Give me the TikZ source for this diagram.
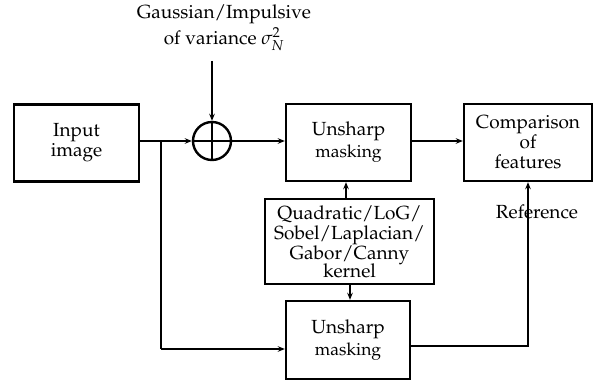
\documentclass[tikz,border=0pt]{standalone}
\usepackage[T1]{fontenc}
\usepackage{mathpazo}
\usetikzlibrary{arrows.meta}
\begin{document}
\begin{tikzpicture}[x=1pt,y=-1pt,
  every node/.style={font=\fontsize{19}{20}\selectfont},
  blk/.style={draw,line width=2.4pt,minimum width=#1,inner sep=0pt,align=center},
  blk/.default=125pt,
  conn/.style={line width=1.9pt,-{Stealth[length=7pt,width=5.5pt]}},
  plain/.style={line width=1.9pt}
]
\useasboundingbox (0,0) rectangle (598,382);
\node[blk=125pt,minimum height=77pt] (input) at (76.5,143) {Input\\image};
\node[draw,circle,line width=2.4pt,minimum size=38pt,inner sep=0pt,
  path picture={\draw[line width=1.9pt] (path picture bounding box.north) -- (path picture bounding box.south)
   (path picture bounding box.west) -- (path picture bounding box.east);}] (sum) at (212,141) {};
\node[align=center] (noise) at (224,28) {Gaussian/Impulsive\\[3pt]of variance $\sigma_N^2$};
\coordinate (ns) at (212,61);
\node[blk=125pt,minimum height=77pt] (us1) at (348.5,142.5) {Unsharp\\[2pt]{\fontsize{17.5}{20}\selectfont masking}};
\node[blk=128pt,minimum height=77pt,align=center] (cmp) at (528,142.5) {Comparison\\of\\features};
\node[blk=169pt,minimum height=85pt] (kern) at (349.5,241.5) {Quadratic/LoG/\\Sobel/Laplacian/\\Gabor/Canny\\[-2pt]kernel};
\node[blk=124pt,minimum height=78pt] (us2) at (348,340) {Unsharp\\[2pt]{\fontsize{17.5}{20}\selectfont masking}};
\node (ref) at (537,212) {Reference};
\coordinate (br) at (161,141);
\coordinate (brd) at (161,349);
\coordinate (ro) at (528,346);
\draw[conn] (input.east |- sum) -- (sum.west);
\draw[conn] (ns) -- (sum.north);
\draw[conn] (sum.east) -- (us1.west |- sum);
\draw[conn] (us1.east |- sum) -- (cmp.west |- sum);
\draw[plain] (br) -- (brd);
\draw[conn] (brd) -- (us2.west |- brd);
\draw[conn] (kern.north -| 346,0) -- (us1.south -| 346,0);
\draw[conn] (kern.south -| 350,0) -- (us2.north -| 350,0);
\draw[conn] (us2.east |- ro) -- (ro) -- (cmp.south -| ro);
\end{tikzpicture}
\end{document}
